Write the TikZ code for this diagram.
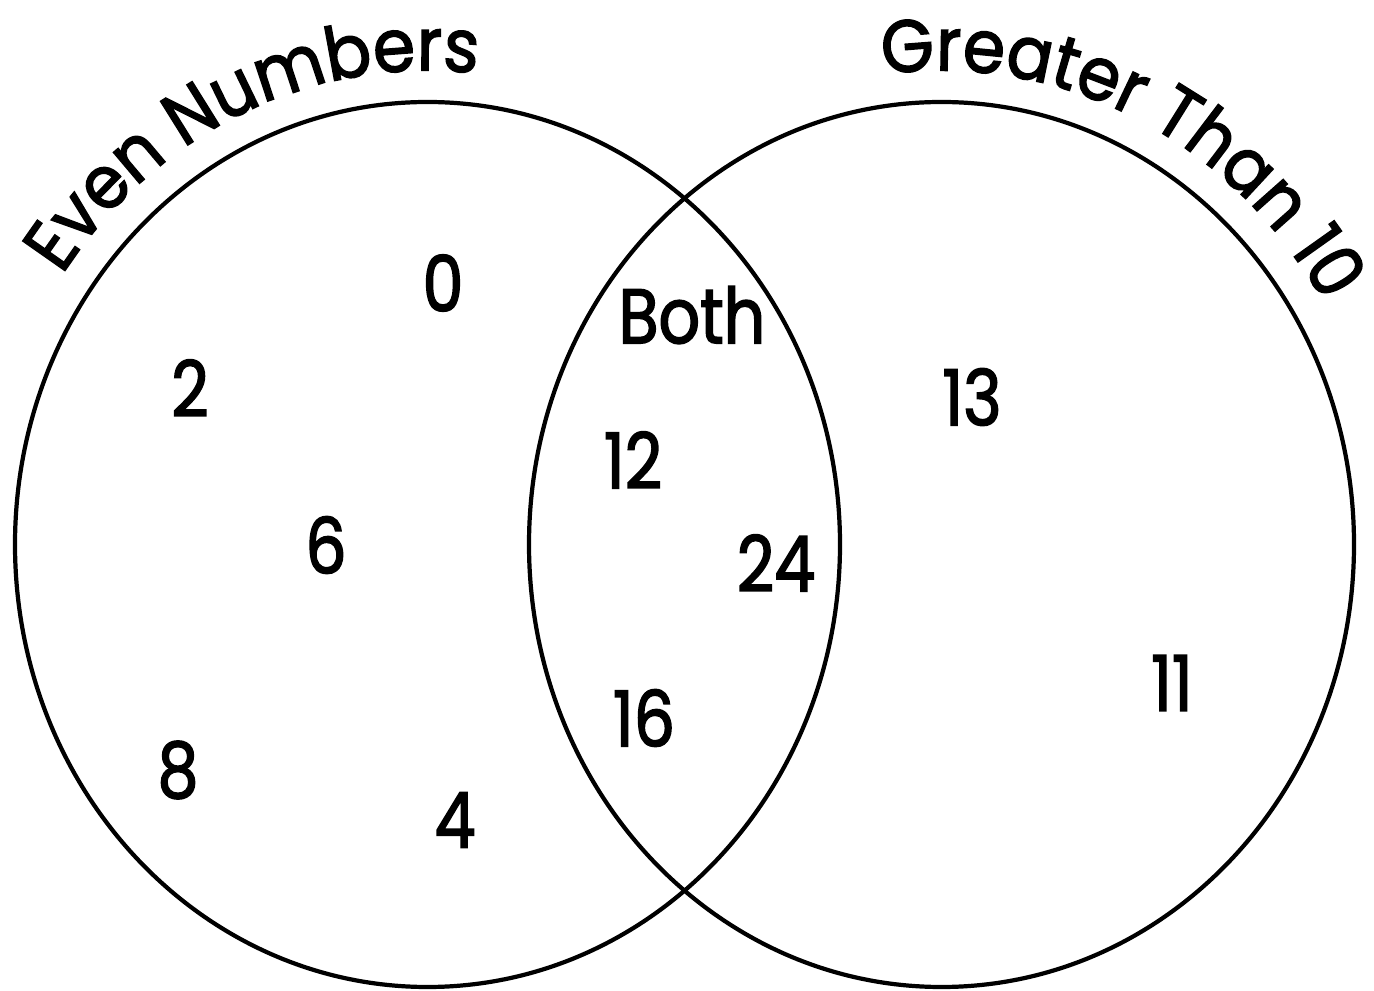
\documentclass[tikz,border=0pt]{standalone}
\usepackage{fontspec}
\setmainfont{Poppins}[FakeStretch=0.84, FakeBold=2]
\newfontfamily\titlefamily{Poppins}[FakeStretch=0.92, FakeBold=2]
\usetikzlibrary{decorations.text}

\newcommand{\vennfont}{\fontsize{22}{26}\selectfont}
\newcommand{\titlefont}{\titlefamily\fontsize{21}{25}\selectfont}

\begin{document}
\begin{tikzpicture}[
        set/.style={draw, line width=1.2pt},
        num/.style={font=\vennfont, inner sep=0pt},
        settitle/.style={decorate, decoration={text along path, text align=center, text={#1}}}
    ]
    \useasboundingbox (0,0) rectangle (13.74,9.9);

    % Even Numbers set
    \coordinate (even) at (4.275,4.455);
    \draw[set] (even) ellipse [x radius=4.125cm, y radius=4.425cm];

    % Greater Than 10 set
    \coordinate (greater) at (9.415,4.455);
    \draw[set] (greater) ellipse [x radius=4.125cm, y radius=4.425cm];

    % Curved set titles
    \path[settitle={|\titlefont|Even Numbers}]
        ([shift={(164:4.44cm and 4.74cm)}]even) arc[start angle=164, end angle=64, x radius=4.44cm, y radius=4.74cm];
    \path[settitle={|\titlefont|Greater Than 10}]
        ([shift={(115.5:4.44cm and 4.74cm)}]greater) arc[start angle=115.5, end angle=13.5, x radius=4.44cm, y radius=4.74cm];

    % Even only
    \node[num] (n0) at (4.43,7.07) {0};
    \node[num] (n2) at (1.90,6.02) {2};
    \node[num] (n6) at (3.26,4.45) {6};
    \node[num] (n8) at (1.78,2.20) {8};
    \node[num] (n4) at (4.55,1.70) {4};

    % Both
    \node[num] (both) at (6.92,6.75) {Both};
    \node[num] (n12) at (6.33,5.30) {12};
    \node[num] (n24) at (7.76,4.27) {24};
    \node[num] (n16) at (6.44,2.72) {16};

    % Greater only
    \node[num] (n13) at (9.72,5.93) {13};
    \node[num] (n11) at (11.72,3.07) {11};

\end{tikzpicture}
\end{document}
